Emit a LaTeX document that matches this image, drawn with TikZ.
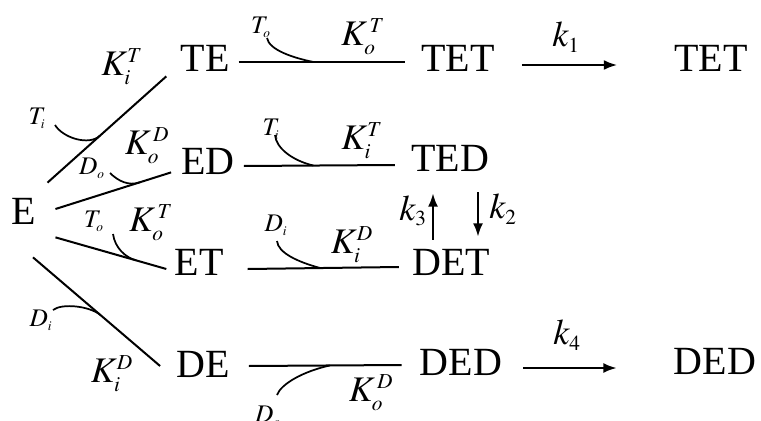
\documentclass[tikz,border=0pt]{standalone}
\usepackage{mathptmx}
\usepackage{fontspec}
\setmainfont{Liberation Serif}
\usepackage{tikz}
\usetikzlibrary{arrows.meta}
\DeclareMathSizes{27}{27}{16}{11}
\DeclareMathSizes{19}{19}{10}{7}

\tikzset{
	species/.style={inner sep=0pt, font=\fontsize{30}{36}\selectfont},
	rate/.style={inner sep=0pt, font=\fontsize{27}{32}\selectfont},
	ion/.style={inner sep=0pt, font=\fontsize{19}{23}\selectfont},
	bind/.style={line width=1.5pt},
	hook/.style={line width=1.3pt},
	react/.style={line width=1.5pt, -{Latex[length=10pt,width=7.5pt]}}
}

\begin{document}
\begin{tikzpicture}[x=0.75pt,y=-0.75pt]
			\useasboundingbox (0,0) rectangle (761,421);
			
			\node[species] (E) at (24,211) {E};
			\node[species] (TE) at (205,58) {TE};
			\node[species] (ED) at (208,161) {ED};
			\node[species] (ET) at (199,262) {ET};
			\node[species] (DE) at (203,364) {DE};
			\node[species] (TET) at (458,58) {TET};
			\node[species] (TED) at (450,158) {TED};
			\node[species] (DET) at (451,262) {DET};
			\node[species] (DED) at (461,362) {DED};
			\node[species] (TETf) at (711,58) {TET};
			\node[species] (DEDf) at (715,361) {DED};
			
			\node[rate] (KiT1) at (122,67) {$K_i^T$};
			\node[rate] (KoD1) at (147,146) {$K_o^{\,D}$};
			\node[rate] (KoT1) at (151,223) {$K_o^{\,T}$};
			\node[rate] (KiD1) at (112,374) {$K_i^D$};
			\node[rate] (KoT2) at (363,37) {$K_o^{\,T}$};
			\node[rate] (KiT2) at (362,141) {$K_i^T$};
			\node[rate] (KiD2) at (352,245) {$K_i^D$};
			\node[rate] (KoD2) at (371,393) {$K_o^{\,D}$};
			\node[rate] (k1) at (566,37) {$k_1$};
			\node[rate] (k2) at (503,209) {$k_2$};
			\node[rate] (k3) at (413,211) {$k_3$};
			\node[rate] (k4) at (567,335) {$k_4$};
			
			\node[ion] (Ti1) at (37,118) {$T_i$};
			\node[ion] (Do1) at (92,168) {$D_o$};
			\node[ion] (To1) at (94,221) {$T_o$};
			\node[ion] (Di1) at (41,320) {$D_i$};
			\node[ion] (To2) at (261,27) {$T_o$};
			\node[ion] (Ti2) at (271,129) {$T_i$};
			\node[ion] (Di2) at (276,225) {$D_i$};
			\node[ion] (Do2) at (268,416) {$D_o$};
			
			\draw[bind] ([shift={(11,-15)}]E.north east) -- coordinate[pos=0.44] (m1) ([shift={(-14,5)}]TE.south west);
			\draw[bind] ([shift={(19,-2)}]E.east) -- coordinate[pos=0.73] (m2) ([shift={(-10,-2)}]ED.south west);
			\draw[bind] ([shift={(19,13)}]E.south east) -- coordinate[pos=0.73] (m3) ([shift={(-8,7)}]ET.west);
			\draw[bind] ([shift={(9,33)}]E.south) -- coordinate[pos=0.53] (m4) ([shift={(-16,2)}]DE.west);
			\draw[bind] ([shift={(9,4)}]TE.east) -- coordinate[pos=0.45] (m5) ([shift={(-16,4)}]TET.west);
			\draw[bind] ([shift={(9,5)}]ED.east) -- coordinate[pos=0.46] (m6) ([shift={(-16,7)}]TED.west);
			\draw[bind] ([shift={(24,7)}]ET.east) -- coordinate[pos=0.48] (m7) ([shift={(-13,5)}]DET.west);
			\draw[bind] ([shift={(19,2)}]DE.east) -- coordinate[pos=0.53] (m8) ([shift={(-18,3)}]DED.west);
			
			\draw[hook] ([shift={(18,7)}]Ti1.center) .. controls +(8,13) and +(-11,10) .. (m1);
			\draw[hook] ([shift={(18,5)}]Do1.center) .. controls +(8,8) and +(-11,4) .. (m2);
			\draw[hook] ([shift={(19,13)}]To1.center) .. controls +(2,14) and +(-11,-3) .. (m3);
			\draw[hook] ([shift={(12,-10)}]Di1.center) .. controls +(9,-7) and +(-11,-9) .. (m4);
			\draw[hook] ([shift={(6,11)}]To2.center) .. controls +(2,12) and +(-20,-4) .. (m5);
			\draw[hook] ([shift={(4,6)}]Ti2.center) .. controls +(1,13) and +(-21,-5) .. (m6);
			\draw[hook] ([shift={(1,16)}]Di2.center) .. controls +(1,12) and +(-22,-6) .. (m7);
			\draw[hook] ([shift={(9,-21)}]Do2.center) .. controls +(4,-11) and +(-27,6) .. (m8);
			
			\draw[react] ([shift={(27,7)}]TET.east) -- ([shift={(-57,7)}]TETf.west);
			\draw[react] ([shift={(21,6)}]DED.east) -- ([shift={(-57,7)}]DEDf.west);
			\draw[react] ([shift={(-18,-9)}]DET.north) -- ([shift={(-17,22)}]TED.south);
			\draw[react] ([shift={(28,21)}]TED.south) -- ([shift={(27,-12)}]DET.north);
			
		\end{tikzpicture}
\end{document}
